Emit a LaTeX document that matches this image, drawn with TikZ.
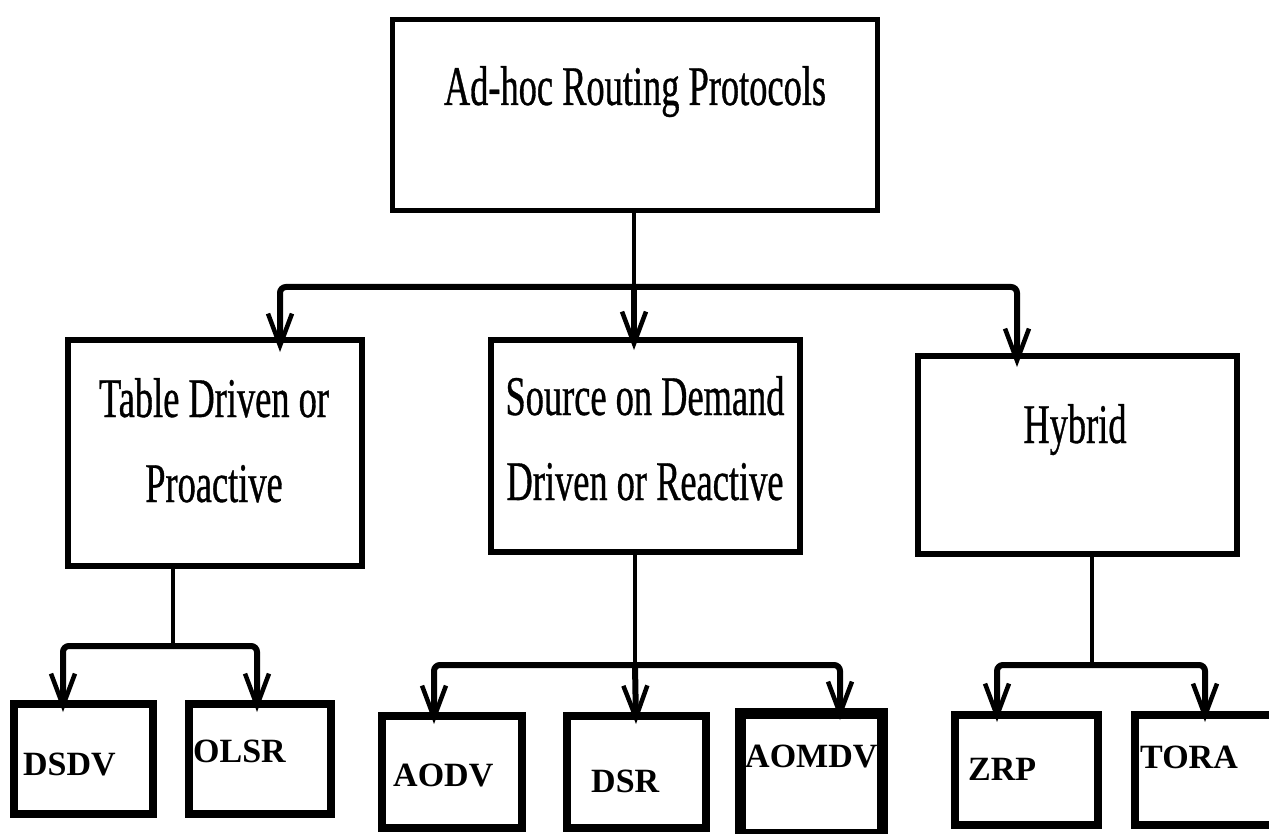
\documentclass[tikz,border=0pt]{standalone}
\usepackage{fontspec}
\setmainfont{Liberation Serif}
\newfontfamily\condfont[FakeStretch=0.65,FakeBold=0.6]{Liberation Serif}
\usetikzlibrary{arrows.meta}
\tikzset{
  box/.style={draw, rectangle, inner sep=0pt, outer sep=0pt, line width=#1},
  box/.default=6pt,
  head/.style={font=\condfont\fontsize{56}{56}\selectfont, inner sep=0pt, anchor=base},
  leaf/.style={font=\bfseries\fontsize{34}{34}\selectfont, inner sep=0pt, anchor=base west},
  stem/.style={line width=4pt},
  flow/.style={line width=6pt, rounded corners=6pt,
    -{Straight Barb[length=32pt,width=24pt,line width=4.5pt 0]}},
}
\begin{document}
\begin{tikzpicture}[x=1pt,y=-1pt]
\useasboundingbox (0,0) rectangle (1269,834);

% category boxes
\node[box=5pt, minimum width=485pt, minimum height=191pt] (root) at (635,115) {};
\node[box, minimum width=294pt, minimum height=226pt] (tab) at (215,453) {};
\node[box, minimum width=309pt, minimum height=212pt] (src) at (645.5,446) {};
\node[box, minimum width=319pt, minimum height=198pt] (hyb) at (1077.5,455) {};

% protocol boxes
\node[box=8pt, minimum width=139pt, minimum height=110pt] (dsdv) at (83.5,759) {};
\node[box=8pt, minimum width=142pt, minimum height=110pt] (olsr) at (260,759) {};
\node[box=8pt, minimum width=140pt, minimum height=112pt] (aodv) at (452,772) {};
\node[box=8pt, minimum width=139pt, minimum height=112pt] (dsr) at (636.5,772) {};
\node[box=11pt, minimum width=142pt, minimum height=121pt] (aomdv) at (811.5,774) {};
\node[box=8pt, minimum width=143pt, minimum height=110pt] (zrp) at (1026.5,770) {};
\node[box=8pt, minimum width=151pt, minimum height=110pt] (tora) at (1210.5,770) {};

% box texts
\node[head] (tRoot) at (635,105) {Ad-hoc Routing Protocols};
\node[head] (tTab1) at (214,417) {Table Driven or};
\node[head] (tTab2) at (214,502) {Proactive};
\node[head] (tSrc1) at (645,415) {Source on Demand};
\node[head] (tSrc2) at (645,500) {Driven or Reactive};
\node[head] (tHyb) at (1075,443) {Hybrid};

\node[leaf] (lDsdv) at (23,775) {DSDV};
\node[leaf] (lOlsr) at (193,762) {OLSR};
\node[leaf] (lAodv) at (393,786) {AODV};
\node[leaf] (lDsr) at (591,792) {DSR};
\node[leaf] (lAomdv) at (745,767) {AOMDV};
\node[leaf] (lZrp) at (968,780) {ZRP};
\node[leaf] (lTora) at (1140,768) {TORA};

% junctions and arrow ends
\coordinate (jTop) at (634,287);
\coordinate (inTab) at (280,352);
\coordinate (inSrc) at (634,350);
\coordinate (inHyb) at (1017,367);

\coordinate (jL) at (173,646);
\coordinate (inDsdv) at (63,712);
\coordinate (inOlsr) at (257,712);

\coordinate (jM) at (635,665);
\coordinate (inAodv) at (434,724);
\coordinate (inDsr) at (636,724);
\coordinate (inAomdv) at (840,720);

\coordinate (jR) at (1092,665);
\coordinate (inZrp) at (997,722);
\coordinate (inTora) at (1205,722);

% connectors
\draw[stem] (jTop |- root.south) -- (jTop);
\draw[flow] (jTop) -| (inTab);
\draw[flow] (jTop) -- (inSrc);
\draw[flow] (jTop) -| (inHyb);

\draw[stem] (jL |- tab.south) -- (jL);
\draw[flow] (jL) -| (inDsdv);
\draw[flow] (jL) -| (inOlsr);

\draw[stem] (jM |- src.south) -- (jM);
\draw[flow] (jM) -| (inAodv);
\draw[flow] (jM) -- (inDsr);
\draw[flow] (jM) -| (inAomdv);

\draw[stem] (jR |- hyb.south) -- (jR);
\draw[flow] (jR) -| (inZrp);
\draw[flow] (jR) -| (inTora);
\end{tikzpicture}
\end{document}
